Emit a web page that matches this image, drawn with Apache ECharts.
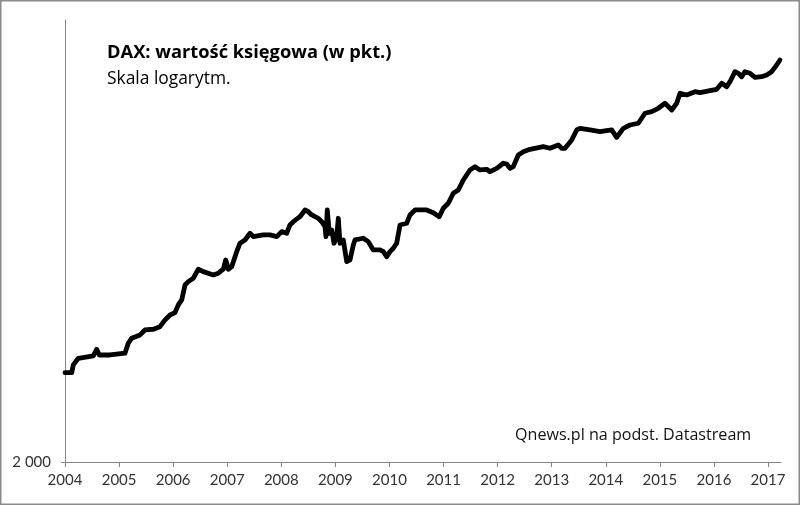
<!DOCTYPE html>
<html>
<head>
<meta charset="utf-8">
<script src="https://cdn.jsdelivr.net/npm/echarts@6/dist/echarts.min.js"></script>
<style>
html,body{margin:0;padding:0;background:#fff;}
#chart{width:800px;height:505px;}
</style>
</head>
<body>
<div id="chart"></div>
<script>
// Decimal years (time position of each reading)
const years = [
 2004.00,2004.124,2004.153,2004.246,2004.523,2004.586,2004.634,2004.832,2005.109,2005.170,
 2005.233,2005.387,2005.479,2005.633,2005.757,2005.849,2005.942,2006.034,2006.095,2006.158,
 2006.219,2006.280,2006.372,2006.465,2006.557,2006.742,2006.835,2006.927,2006.972,2007.020,
 2007.082,2007.175,2007.236,2007.329,2007.421,2007.482,2007.667,2007.791,2007.915,2008.007,
 2008.099,2008.160,2008.222,2008.345,2008.438,2008.499,2008.562,2008.684,2008.747,2008.808,
 2008.826,2008.850,2008.887,2008.932,2008.974,2009.024,2009.054,2009.085,2009.146,2009.209,
 2009.270,2009.331,2009.362,2009.516,2009.608,2009.701,2009.825,2009.886,2009.949,2010.010,
 2010.071,2010.133,2010.195,2010.318,2010.380,2010.472,2010.688,2010.810,2010.921,2010.995,
 2011.088,2011.180,2011.273,2011.365,2011.489,2011.581,2011.674,2011.798,2011.859,2011.983,
 2012.105,2012.168,2012.229,2012.290,2012.382,2012.475,2012.598,2012.844,2012.968,2013.122,
 2013.184,2013.246,2013.370,2013.462,2013.523,2013.708,2013.893,2014.109,2014.202,2014.324,
 2014.448,2014.601,2014.725,2014.849,2014.971,2015.095,2015.219,2015.311,2015.373,2015.497,
 2015.650,2015.742,2015.927,2016.051,2016.143,2016.236,2016.297,2016.389,2016.450,2016.513,
 2016.574,2016.667,2016.759,2016.883,2016.975,2017.068,2017.160,2017.221
];
// DAX book value (index points)
const bookValue = [
 2769,2769,2848,2918,2943,3015,2953,2953,2972,3082,
 3139,3177,3235,3243,3274,3355,3416,3445,3543,3608,
 3811,3857,3905,4035,4000,3952,3977,4035,4174,4035,
 4073,4302,4436,4489,4600,4543,4572,4572,4543,4627,
 4600,4741,4798,4886,5007,4976,4917,4858,4798,4712,
 4543,5007,4600,4656,4436,4543,4858,4436,4489,4148,
 4174,4408,4489,4517,4462,4329,4329,4302,4224,4302,
 4356,4436,4741,4770,4917,5007,5007,4958,4886,5038,
 5131,5321,5385,5585,5792,5862,5792,5806,5756,5827,
 5935,5919,5827,5862,6117,6191,6245,6305,6268,6344,
 6268,6268,6460,6700,6741,6700,6658,6700,6524,6741,
 6823,6866,7120,7162,7251,7384,7206,7384,7658,7611,
 7703,7675,7731,7770,7942,7844,7988,8285,8236,8135,
 8285,8236,8117,8135,8186,8285,8489,8645
];
const yearTicks = [2004,2005,2006,2007,2008,2009,2010,2011,2012,2013,2014,2015,2016,2017];
const yLabelValues = [2000];

const titleText = 'DAX: wartość księgowa (w pkt.)';
const subtitleText = 'Skala logarytm.';
const sourceText = 'Qnews.pl na podst. Datastream';

const FONT = '"Open Sans", Lato, sans-serif';
const AXFONT = 'Lato, "Open Sans", sans-serif';
const chart = echarts.init(document.getElementById('chart'), null, {renderer:'canvas'});
chart.setOption({
  animation: false,
  backgroundColor: '#fff',
  grid: {left: 65, right: 19, top: 20, bottom: 43, containLabel: false},
  title: [
    {text: titleText, left: 107, top: 43, padding: 0,
     textStyle: {fontFamily: FONT, fontSize: 18.3, fontWeight: 'bold', color: '#000', lineHeight: 20}},
    {text: subtitleText, left: 107, top: 69, padding: 0,
     textStyle: {fontFamily: FONT, fontSize: 17.4, fontWeight: 'normal', color: '#000', lineHeight: 20}},
    {text: sourceText, left: 515, top: 425, padding: 0,
     textStyle: {fontFamily: FONT, fontSize: 16.1, fontWeight: 'normal', color: '#111', lineHeight: 20}}
  ],
  xAxis: {
    type: 'value', min: 2004, max: 2017.24, interval: 1,
    axisLine: {show: true, lineStyle: {color: '#868686', width: 1}},
    axisTick: {show: true, length: 5, inside: false, customValues: yearTicks,
               lineStyle: {color: '#868686'}},
    axisLabel: {customValues: yearTicks, margin: 11, color: '#333',
                fontFamily: AXFONT, fontSize: 15, formatter: v => String(Math.round(v))},
    splitLine: {show: false}
  },
  yAxis: {
    type: 'log', logBase: 10, min: 2000, max: 10000,
    axisLine: {show: true, lineStyle: {color: '#868686', width: 1}},
    axisTick: {show: true, length: 4, customValues: yLabelValues,
               lineStyle: {color: '#868686'}},
    axisLabel: {margin: 14, color: '#333', fontFamily: AXFONT, fontSize: 15,
                formatter: v => (Math.abs(v - 2000) < 1 ? '2 000' : '')},
    splitLine: {show: false}
  },
  series: [{
    type: 'line',
    data: years.map((y, i) => [y, bookValue[i]]),
    showSymbol: false,
    symbol: 'none',
    lineStyle: {color: '#000', width: 4.8, join: 'round', cap: 'round'}
  }],
  graphic: [{
    type: 'rect', silent: true, z: 100,
    shape: {x: 0.75, y: 0.75, width: 798.5, height: 503.5},
    style: {fill: 'none', stroke: '#8a8a8a', lineWidth: 1.5}
  }]
});
</script>
</body>
</html>
